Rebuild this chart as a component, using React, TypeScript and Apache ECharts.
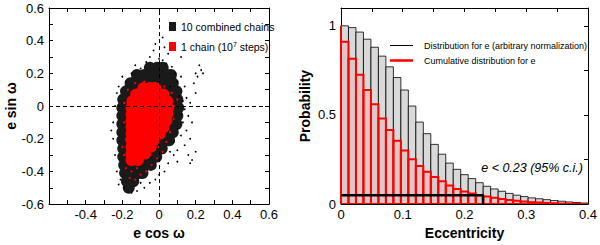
import React, { useEffect, useRef } from 'react';
import * as echarts from 'echarts';

const FONT = '"Liberation Sans", Arial, Helvetica, sans-serif';

// ---------- Right panel: eccentricity histogram ----------
const E_MIN = 0;
const E_MAX = 0.4;
const N_BINS = 33;
// distribution for e (arbitrary normalization), one value per bin
const DIST = [
  1.0, 0.99, 0.965, 0.925, 0.88, 0.83, 0.77, 0.71, 0.64, 0.55, 0.46,
  0.395, 0.335, 0.28, 0.23, 0.195, 0.165, 0.143, 0.12, 0.1, 0.085,
  0.072, 0.06, 0.05, 0.042, 0.035, 0.03, 0.025, 0.02, 0.016, 0.012, 0.009, 0.006,
];
// cumulative distribution (probability that e exceeds the bin), one value per bin
const CUM = [
  0.91, 0.815, 0.725, 0.64, 0.56, 0.48, 0.415, 0.355, 0.3, 0.252, 0.214,
  0.182, 0.152, 0.128, 0.104, 0.085, 0.07, 0.059, 0.05, 0.042, 0.035,
  0.029, 0.023, 0.019, 0.015, 0.011, 0.009, 0.007, 0.005, 0.003, 0.002, 0.001, 0.0005,
];
const CUM_START = 1.0;
const CI_E = 0.23;
const CI_LEVEL = 0.05;
const DIST_NAME = 'Distribution for e (arbitrary normalization)';
const CUM_NAME = 'Cumulative distribution for e';
const CI_TEXT = 'e < 0.23 (95% c.i.)';

// ---------- Left panel: e cos w vs e sin w ----------
const BLACK_NAME = '10 combined chains';
const RED_NAME = '1 chain (10^7 steps)';

// dense cloud of the 10 combined chains: rows of [e sin w, e cos w values]
const BLACK_CORE_ROWS: [number, number[]][] = [
  [0.235, [-0.05, -0.01, 0.02]],
  [0.19, [-0.12, -0.08, -0.04, 0.0, 0.04, 0.065]],
  [0.14, [-0.155, -0.12, -0.08, -0.04, 0.0, 0.04, 0.075]],
  [0.09, [-0.18, -0.14, -0.1, -0.06, -0.02, 0.02, 0.06, 0.095]],
  [0.04, [-0.195, -0.16, -0.12, -0.08, -0.04, 0.0, 0.04, 0.08, 0.1]],
  [-0.01, [-0.2, -0.16, -0.12, -0.08, -0.04, 0.0, 0.04, 0.08, 0.105]],
  [-0.06, [-0.2, -0.16, -0.12, -0.08, -0.04, 0.0, 0.04, 0.08, 0.1]],
  [-0.11, [-0.2, -0.16, -0.12, -0.08, -0.04, 0.0, 0.04, 0.08, 0.095]],
  [-0.16, [-0.2, -0.16, -0.12, -0.08, -0.04, 0.0, 0.04, 0.075]],
  [-0.21, [-0.2, -0.16, -0.12, -0.08, -0.04, 0.0, 0.04, 0.055]],
  [-0.26, [-0.195, -0.16, -0.12, -0.08, -0.04, 0.0, 0.015]],
  [-0.31, [-0.195, -0.16, -0.12, -0.08, -0.04, -0.015]],
  [-0.36, [-0.19, -0.15, -0.11, -0.07, -0.045]],
  [-0.41, [-0.185, -0.15, -0.11, -0.09]],
  [-0.46, [-0.175, -0.14]],
  [-0.5, [-0.165]],
];
// sparse outer points of the 10 combined chains [e cos w, e sin w]
const BLACK_SPARSE: [number, number][] = [
  [-0.02, 0.38], [0.03, 0.36], [0.05, 0.32], [-0.05, 0.3], [0.0, 0.29], [0.02, 0.28],
  [-0.07, 0.27], [0.04, 0.26], [0.07, 0.24], [-0.1, 0.23], [0.09, 0.2], [0.12, 0.18],
  [0.1, 0.15], [-0.15, 0.2], [-0.18, 0.15], [0.14, 0.12], [0.22, 0.25], [0.23, 0.22],
  [0.2, 0.2], [0.19, 0.14], [0.15, 0.05], [0.17, 0.02], [0.2, 0.08], [0.14, -0.02],
  [0.16, -0.06], [0.18, -0.1], [0.13, -0.1], [0.15, -0.15], [0.12, -0.18], [0.17, -0.2],
  [0.14, -0.24], [0.16, -0.3], [0.18, -0.33], [0.1, -0.27], [0.08, -0.3], [0.05, -0.35],
  [0.03, -0.4], [0.0, -0.42], [-0.02, -0.45], [-0.05, -0.47], [-0.08, -0.5], [-0.12, -0.52],
  [-0.15, -0.53], [-0.19, -0.5], [-0.21, -0.45], [-0.23, -0.4], [-0.24, -0.3], [-0.25, -0.2],
  [-0.25, -0.1], [-0.24, 0.0], [-0.23, 0.08], [-0.22, 0.12], [-0.2, 0.18], [-0.13, 0.25],
  [0.06, 0.12], [0.11, 0.06], [0.13, 0.03], [0.12, -0.05], [0.1, -0.14], [0.08, -0.22],
  [0.06, -0.28], [0.21, 0.18], [0.24, 0.2], [0.12, 0.3], [0.2, -0.28], [0.17, -0.35],
  [0.1, -0.34], [-0.03, 0.34], [0.02, 0.42], [-0.26, -0.15], [-0.22, -0.48], [-0.1, -0.47],
];
// dense cloud of the single chain
const RED_CORE_ROWS: [number, number[]][] = [
  [0.11, [-0.085, -0.05, -0.02]],
  [0.07, [-0.125, -0.09, -0.05, -0.01, 0.025]],
  [0.03, [-0.145, -0.11, -0.07, -0.03, 0.01, 0.045]],
  [-0.01, [-0.15, -0.11, -0.07, -0.03, 0.01, 0.05]],
  [-0.05, [-0.15, -0.11, -0.07, -0.03, 0.01, 0.045]],
  [-0.09, [-0.15, -0.11, -0.07, -0.03, 0.01, 0.04]],
  [-0.13, [-0.15, -0.11, -0.07, -0.03, 0.01, 0.025]],
  [-0.17, [-0.15, -0.11, -0.07, -0.03, 0.005]],
  [-0.21, [-0.15, -0.11, -0.07, -0.03]],
  [-0.25, [-0.15, -0.11, -0.07, -0.045]],
  [-0.29, [-0.15, -0.11, -0.075]],
  [-0.33, [-0.15, -0.115]],
];
const RED_SPARSE: [number, number][] = [
  [-0.18, -0.38], [-0.15, -0.4], [-0.12, -0.38], [-0.1, -0.42], [-0.16, -0.44], [-0.19, -0.3],
  [-0.18, -0.2], [-0.19, -0.1], [-0.19, 0.02], [-0.17, 0.1], [-0.13, 0.14], [-0.08, 0.15],
  [-0.03, 0.14], [0.03, 0.12], [0.07, 0.08], [0.08, 0.0], [0.08, -0.08], [0.06, -0.16],
  [0.04, -0.22], [0.02, -0.28], [-0.01, -0.32], [-0.04, -0.36], [-0.07, -0.4], [0.0, -0.25],
  [0.1, 0.04], [-0.2, -0.25], [-0.13, -0.45],
];

const rowsToPoints = (rows: [number, number[]][]) =>
  rows.flatMap(([y, xs]) => xs.map((x) => [x, y]));

const fmt1 = (v: number) => String(parseFloat(v.toFixed(2)));
const isMult = (v: number, step: number) => Math.abs(v / step - Math.round(v / step)) < 1e-6;

export default function App() {
  const ref = useRef<HTMLDivElement>(null);
  useEffect(() => {
    document.body.style.margin = '0';
    if (!ref.current) return;
    const chart = echarts.init(ref.current, undefined, { renderer: 'svg' });
    const binW = (E_MAX - E_MIN) / N_BINS;
    const distData = DIST.map((v, i) => [E_MIN + i * binW, E_MIN + (i + 1) * binW, v]);
    const cumData = CUM.map((v, i) => [E_MIN + i * binW, E_MIN + (i + 1) * binW, v]);

    const labelStyle = { fontFamily: FONT, fontSize: 13, color: '#000' };
    const lineStyle = { color: '#000', width: 1 };
    const axLine = { show: true, onZero: false, lineStyle };
    const tick = { show: true, inside: true, length: 4, lineStyle };
    const nameStyle = { fontFamily: FONT, fontSize: 14, fontWeight: 'bold' as const, color: '#000' };
    const dot = (color: string) => ({
      color, opacity: 1, borderWidth: 0, borderColor: color, shadowBlur: 0,
    });
    const scatterBase = {
      type: 'scatter', xAxisIndex: 0, yAxisIndex: 0, symbol: 'circle',
      emphasis: { disabled: true },
    };

    const rectItem = (fill: string, stroke: string, lw: number) => (params: any, api: any) => {
      const a = api.coord([api.value(0), api.value(2)]);
      const b = api.coord([api.value(1), 0]);
      return {
        type: 'rect',
        shape: { x: a[0], y: a[1], width: b[0] - a[0], height: b[1] - a[1] },
        style: { fill, stroke, lineWidth: lw },
      };
    };

    chart.setOption({
      animation: false,
      grid: [
        { left: 49, top: 8, width: 220, height: 200 },
        { left: 341, top: 8, width: 248, height: 199 },
      ],
      xAxis: [
        {
          gridIndex: 0, type: 'value', min: -0.6, max: 0.6, interval: 0.1,
          axisLine: axLine, axisTick: tick, splitLine: { show: false },
          axisLabel: {
            ...labelStyle, margin: 4,
            formatter: (v: number) => (isMult(v, 0.2) && v > -0.55 ? fmt1(v) : ''),
          },
          name: 'e cos ω', nameLocation: 'middle', nameGap: 17, nameTextStyle: nameStyle,
        },
        {
          gridIndex: 0, type: 'value', position: 'top', min: -0.6, max: 0.6, interval: 0.1,
          axisLine: axLine, axisTick: tick, splitLine: { show: false },
          axisLabel: { show: false },
        },
        {
          gridIndex: 1, type: 'value', min: E_MIN, max: E_MAX, interval: 0.05,
          axisLine: axLine, axisTick: tick, splitLine: { show: false },
          axisLabel: {
            ...labelStyle, margin: 4,
            formatter: (v: number) => (isMult(v, 0.1) ? fmt1(v) : ''),
          },
          name: 'Eccentricity', nameLocation: 'middle', nameGap: 18, nameTextStyle: nameStyle,
        },
        {
          gridIndex: 1, type: 'value', position: 'top', min: E_MIN, max: E_MAX, interval: 0.05,
          axisLine: axLine, axisTick: tick, splitLine: { show: false },
          axisLabel: { show: false },
        },
      ],
      yAxis: [
        {
          gridIndex: 0, type: 'value', min: -0.6, max: 0.6, interval: 0.1,
          axisLine: axLine, axisTick: tick, splitLine: { show: false },
          axisLabel: {
            ...labelStyle, margin: 5,
            formatter: (v: number) => (isMult(v, 0.2) ? fmt1(v) : ''),
          },
          name: 'e sin ω', nameLocation: 'middle', nameGap: 31, nameTextStyle: nameStyle,
        },
        {
          gridIndex: 0, type: 'value', position: 'right', min: -0.6, max: 0.6, interval: 0.1,
          axisLine: axLine, axisTick: tick, splitLine: { show: false },
          axisLabel: { show: false },
        },
        {
          gridIndex: 1, type: 'value', min: 0, max: 1.1, interval: 0.25,
          axisLine: axLine, axisTick: tick, splitLine: { show: false },
          axisLabel: {
            ...labelStyle, margin: 5,
            formatter: (v: number) => (isMult(v, 0.5) && v < 1.05 ? fmt1(v) : ''),
          },
          name: 'Probability', nameLocation: 'middle', nameGap: 29, nameTextStyle: nameStyle,
        },
        {
          gridIndex: 1, type: 'value', position: 'right', min: 0, max: 1.1, interval: 0.25,
          axisLine: axLine, axisTick: tick, splitLine: { show: false },
          axisLabel: { show: false },
        },
      ],
      legend: {
        left: 164, top: 16, orient: 'vertical', itemWidth: 7, itemHeight: 9, itemGap: 9,
        icon: 'rect',
        data: [BLACK_NAME, RED_NAME],
        formatter: (n: string) => (n === RED_NAME ? '1 chain (10{sup|7} steps)' : n),
        textStyle: {
          fontFamily: FONT, fontSize: 10.5, color: '#000',
          rich: { sup: { fontFamily: FONT, fontSize: 7, verticalAlign: 'top', lineHeight: 10, color: '#000' } },
        },
      },
      graphic: [
        { type: 'line', shape: { x1: 390, y1: 45.5, x2: 413, y2: 45.5 }, style: { stroke: '#000', lineWidth: 1 } },
        { type: 'text', x: 424, y: 45.5, style: { text: DIST_NAME, fontFamily: FONT, fontSize: 9, fill: '#000', textVerticalAlign: 'middle' } },
        { type: 'line', shape: { x1: 390, y1: 60.5, x2: 413, y2: 60.5 }, style: { stroke: '#ff0000', lineWidth: 2.5 } },
        { type: 'text', x: 424, y: 60.5, style: { text: CUM_NAME, fontFamily: FONT, fontSize: 9, fill: '#000', textVerticalAlign: 'middle' } },
        { type: 'text', x: 583, y: 168, style: { text: CI_TEXT, fontFamily: FONT, fontSize: 12.5, fontStyle: 'italic', fill: '#000', textAlign: 'right', textVerticalAlign: 'middle' } },
      ],
      series: [
        {
          ...scatterBase, name: BLACK_NAME,
          data: rowsToPoints(BLACK_CORE_ROWS), symbolSize: 12, itemStyle: dot('#1a1a1a'),
        },
        {
          ...scatterBase, name: BLACK_NAME,
          data: BLACK_SPARSE, symbolSize: 1.8, itemStyle: dot('#000'),
        },
        {
          ...scatterBase, name: RED_NAME,
          data: rowsToPoints(RED_CORE_ROWS), symbolSize: 12, itemStyle: dot('#ff0000'),
        },
        {
          ...scatterBase, name: RED_NAME,
          data: RED_SPARSE, symbolSize: 2.2, itemStyle: dot('#ff0000'),
        },
        {
          type: 'line', xAxisIndex: 0, yAxisIndex: 0, data: [[0, 0]], showSymbol: false,
          lineStyle: { width: 0 },
          markLine: {
            silent: true, symbol: ['none', 'none'], label: { show: false },
            lineStyle: { type: [4, 3], color: '#000', width: 1 },
            data: [{ xAxis: 0 }, { yAxis: 0 }],
          },
        },
        {
          type: 'custom', xAxisIndex: 2, yAxisIndex: 2, clip: true,
          data: distData, encode: { x: [0, 1], y: 2 },
          renderItem: rectItem('#d9d9d9', '#000', 0.8),
        },
        {
          type: 'custom', xAxisIndex: 2, yAxisIndex: 2, clip: true,
          data: cumData, encode: { x: [0, 1], y: 2 },
          renderItem: rectItem('rgba(255,0,0,0.08)', '#ff0000', 2),
        },
        {
          type: 'line', xAxisIndex: 2, yAxisIndex: 2, showSymbol: false,
          data: [[E_MIN, 0], [E_MIN, CUM_START]],
          lineStyle: { color: '#ff0000', width: 2 },
        },
        {
          type: 'line', xAxisIndex: 2, yAxisIndex: 2, showSymbol: false,
          data: [[E_MIN, CI_LEVEL], [CI_E, CI_LEVEL], [CI_E, 0]],
          lineStyle: { color: '#000', width: 2.5 },
        },
      ],
    });
    return () => chart.dispose();
  }, []);
  return <div ref={ref} style={{ width: 600, height: 245 }} />;
}
